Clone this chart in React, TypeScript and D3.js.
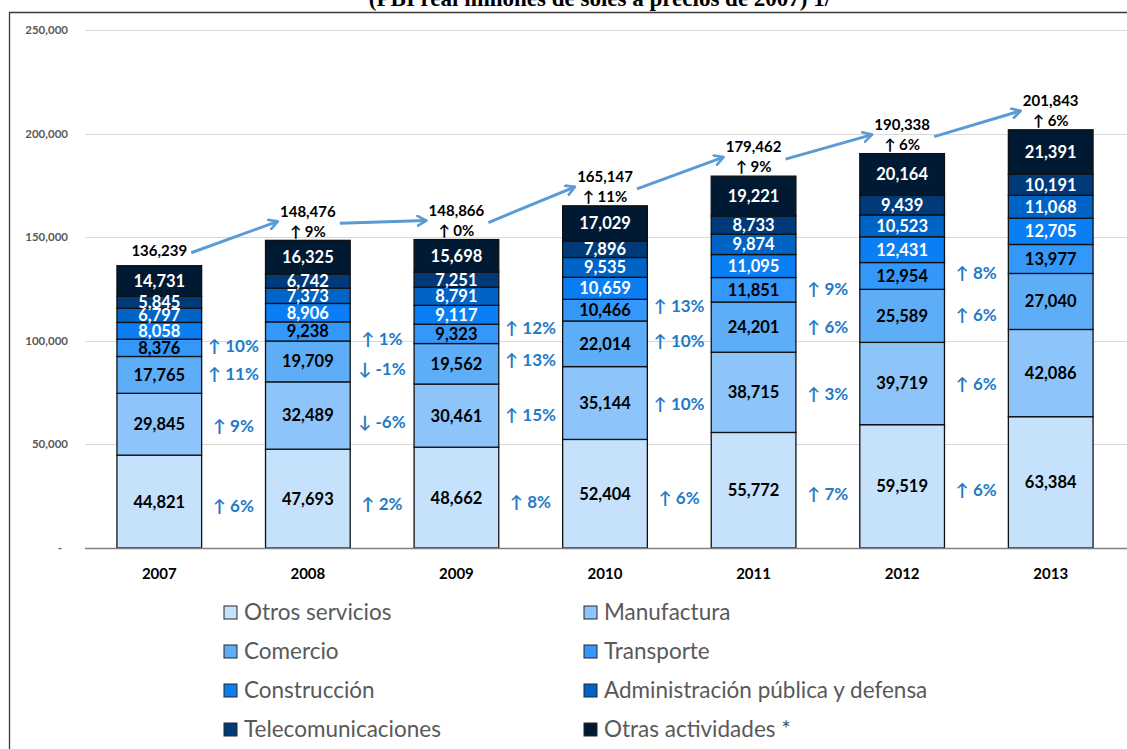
import React from 'react';
import * as d3 from 'd3';

const years = ['2007', '2008', '2009', '2010', '2011', '2012', '2013'];
const seriesNames = [
  'Otros servicios',
  'Manufactura',
  'Comercio',
  'Transporte',
  'Construcción',
  'Administración pública y defensa',
  'Telecomunicaciones',
  'Otras actividades *',
];
const otrosServicios = [44821, 47693, 48662, 52404, 55772, 59519, 63384];
const manufactura = [29845, 32489, 30461, 35144, 38715, 39719, 42086];
const comercio = [17765, 19709, 19562, 22014, 24201, 25589, 27040];
const transporte = [8376, 9238, 9323, 10466, 11851, 12954, 13977];
const construccion = [8058, 8906, 9117, 10659, 11095, 12431, 12705];
const administracion = [6797, 7373, 8791, 9535, 9874, 10523, 11068];
const telecomunicaciones = [5845, 6742, 7251, 7896, 8733, 9439, 10191];
const otrasActividades = [14731, 16325, 15698, 17029, 19221, 20164, 21391];
const totals = [136239, 148476, 148866, 165147, 179462, 190338, 201843];
const totalGrowth = [null, 9, 0, 11, 9, 6, 6];
// growth % shown in the gaps (year i -> i+1) for the four lowest series
const otrosGrowth = [6, 2, 8, 6, 7, 6];
const manufacturaGrowth = [9, -6, 15, 10, 3, 6];
const comercioGrowth = [11, -1, 13, 10, 6, 6];
const transporteGrowth = [10, 1, 12, 13, 9, 8];
const yTicks = [0, 50000, 100000, 150000, 200000, 250000];

const seriesValues = [
  otrosServicios,
  manufactura,
  comercio,
  transporte,
  construccion,
  administracion,
  telecomunicaciones,
  otrasActividades,
];
const gapGrowth = [otrosGrowth, manufacturaGrowth, comercioGrowth, transporteGrowth];

const colors = ['#C5E1FB', '#8DC5FA', '#5DADF7', '#3497FA', '#0A7EF2', '#0063C6', '#003A78', '#011A33'];
const labelColors = ['#000', '#000', '#000', '#000', '#fff', '#fff', '#fff', '#fff'];

const FONT = 'Lato, Carlito, Calibri, "Open Sans", sans-serif';
const fmt = d3.format(',');

export default function App() {
  const W = 1127;
  const H = 749;
  const x = d3.scaleBand<string>().domain(years).range([85, 1125]).paddingInner(0.43).paddingOuter(0.215);
  const y = d3.scaleLinear().domain([0, 250000]).range([548, 30]);

  const table = years.map((yr, i) => {
    const row: any = { year: yr };
    seriesNames.forEach((s, k) => (row[s] = seriesValues[k][i]));
    return row;
  });
  const stacked = d3.stack<any>().keys(seriesNames)(table);
  const bw = x.bandwidth();

  const totalLabelY = years.map((yr, i) => {
    const top = y(stacked[stacked.length - 1][i][1]);
    return totalGrowth[i] === null ? top - 15 : top - 29;
  });

  return (
    <svg width={W} height={H} style={{ position: 'absolute', left: 0, top: 0, background: '#fff' }}>
      <defs>
        <marker id="ah" viewBox="0 0 12 12" refX="10" refY="6" markerWidth="12" markerHeight="12" markerUnits="userSpaceOnUse" orient="auto">
          <path d="M1,1 L10,6 L1,11" fill="none" stroke="#5B9BD5" strokeWidth={2.6} strokeLinecap="round" strokeLinejoin="round" />
        </marker>
      </defs>
      <rect x={0} y={0} width={W} height={H} fill="#fff" />
      <text x={600} y={6} textAnchor="middle" fontFamily='"Liberation Serif", "Times New Roman", serif' fontWeight="bold" fontSize={23} fill="#000">
        (PBI real millones de soles a precios de 2007) 1/
      </text>
      <line x1={9} x2={W} y1={12.5} y2={12.5} stroke="#3a3a3a" strokeWidth={1.3} />
      <line x1={9.5} x2={9.5} y1={12} y2={H} stroke="#3a3a3a" strokeWidth={1.3} />

      {/* gridlines and y ticks */}
      {yTicks.map((t) => (
        <g key={t}>
          {t > 0 && <line x1={85} x2={W} y1={Math.round(y(t)) + 0.5} y2={Math.round(y(t)) + 0.5} stroke="#D9D9D9" strokeWidth={1} />}
          <text x={t === 0 ? 62 : 68} y={y(t)} dy="0.35em" textAnchor="end" fontFamily={FONT} fontWeight="bold" fontSize={11.5} fill="#595959">
            {t === 0 ? '-' : fmt(t)}
          </text>
        </g>
      ))}

      {/* bars */}
      {stacked.map((layer, k) => (
        <g key={layer.key}>
          {layer.map((d, i) => (
            <rect key={i} x={x(years[i])} y={y(d[1])} width={bw} height={y(d[0]) - y(d[1])} fill={colors[k]} stroke="#111" strokeWidth={1.3} />
          ))}
        </g>
      ))}
      {stacked.map((layer, k) => (
        <g key={'l' + layer.key}>
          {layer.map((d, i) => (
            <text key={i} x={(x(years[i]) as number) + bw / 2} y={(y(d[0]) + y(d[1])) / 2} dy="0.36em" textAnchor="middle" fontFamily={FONT} fontWeight="bold" fontSize={16.5} fill={labelColors[k]}>
              {fmt(seriesValues[k][i])}
            </text>
          ))}
        </g>
      ))}

      {/* baseline */}
      <line x1={85} x2={W} y1={y(0) + 0.5} y2={y(0) + 0.5} stroke="#7F7F7F" strokeWidth={1.5} />

      {/* year labels */}
      {years.map((yr) => (
        <text key={yr} x={(x(yr) as number) + bw / 2} y={574} dy="0.35em" textAnchor="middle" fontFamily={FONT} fontWeight="bold" fontSize={15} fill="#000">
          {yr}
        </text>
      ))}

      {/* gap growth labels */}
      {gapGrowth.map((g, k) =>
        g.map((v, i) => {
          const a = stacked[k][i];
          const b = stacked[k][i + 1];
          const m1 = (y(a[0]) + y(a[1])) / 2;
          const m2 = (y(b[0]) + y(b[1])) / 2;
          const cx = ((x(years[i]) as number) + bw + (x(years[i + 1]) as number)) / 2;
          return (
            <text key={k + '-' + i} x={cx} y={(m1 + m2) / 2 + 6} dy="0.35em" textAnchor="middle" fontFamily={FONT} fontWeight="bold" fontSize={17} fill="#1F7BC8">
              {(v < 0 ? '↓ ' : '↑ ') + v + '%'}
            </text>
          );
        })
      )}

      {/* totals */}
      {years.map((yr, i) => {
        const cx = (x(yr) as number) + bw / 2;
        return (
          <g key={'t' + yr}>
            <text x={cx} y={totalLabelY[i]} dy="0.35em" textAnchor="middle" fontFamily={FONT} fontWeight="bold" fontSize={15} fill="#000">
              {fmt(totals[i])}
            </text>
            {totalGrowth[i] !== null && (
              <text x={cx} y={totalLabelY[i] + 20} dy="0.35em" textAnchor="middle" fontFamily={FONT} fontWeight="bold" fontSize={15} fill="#000">
                {'↑ ' + totalGrowth[i] + '%'}
              </text>
            )}
          </g>
        );
      })}

      {/* arrows between totals */}
      {years.slice(0, -1).map((yr, i) => {
        const cx1 = (x(yr) as number) + bw / 2;
        const cx2 = (x(years[i + 1]) as number) + bw / 2;
        const y1 = totalLabelY[i] + (totalGrowth[i] === null ? 2 : 12);
        const y2 = totalLabelY[i + 1] + 10;
        return <line key={'a' + yr} x1={cx1 + 32} y1={y1} x2={cx2 - 30} y2={y2} stroke="#5B9BD5" strokeWidth={3} markerEnd="url(#ah)" />;
      })}

      {/* legend */}
      {seriesNames.map((s, k) => {
        const col = k % 2;
        const row = Math.floor(k / 2);
        const lx = col === 0 ? 224 : 584;
        const ly = 612 + row * 39;
        return (
          <g key={'lg' + s}>
            <rect x={lx} y={ly - 6} width={13} height={13} fill={colors[k]} stroke="#262626" strokeWidth={1} />
            <text x={lx + 20} y={ly} dy="0.35em" fontFamily={FONT} fontSize={22.5} fill="#595959">
              {s}
            </text>
          </g>
        );
      })}
    </svg>
  );
}
